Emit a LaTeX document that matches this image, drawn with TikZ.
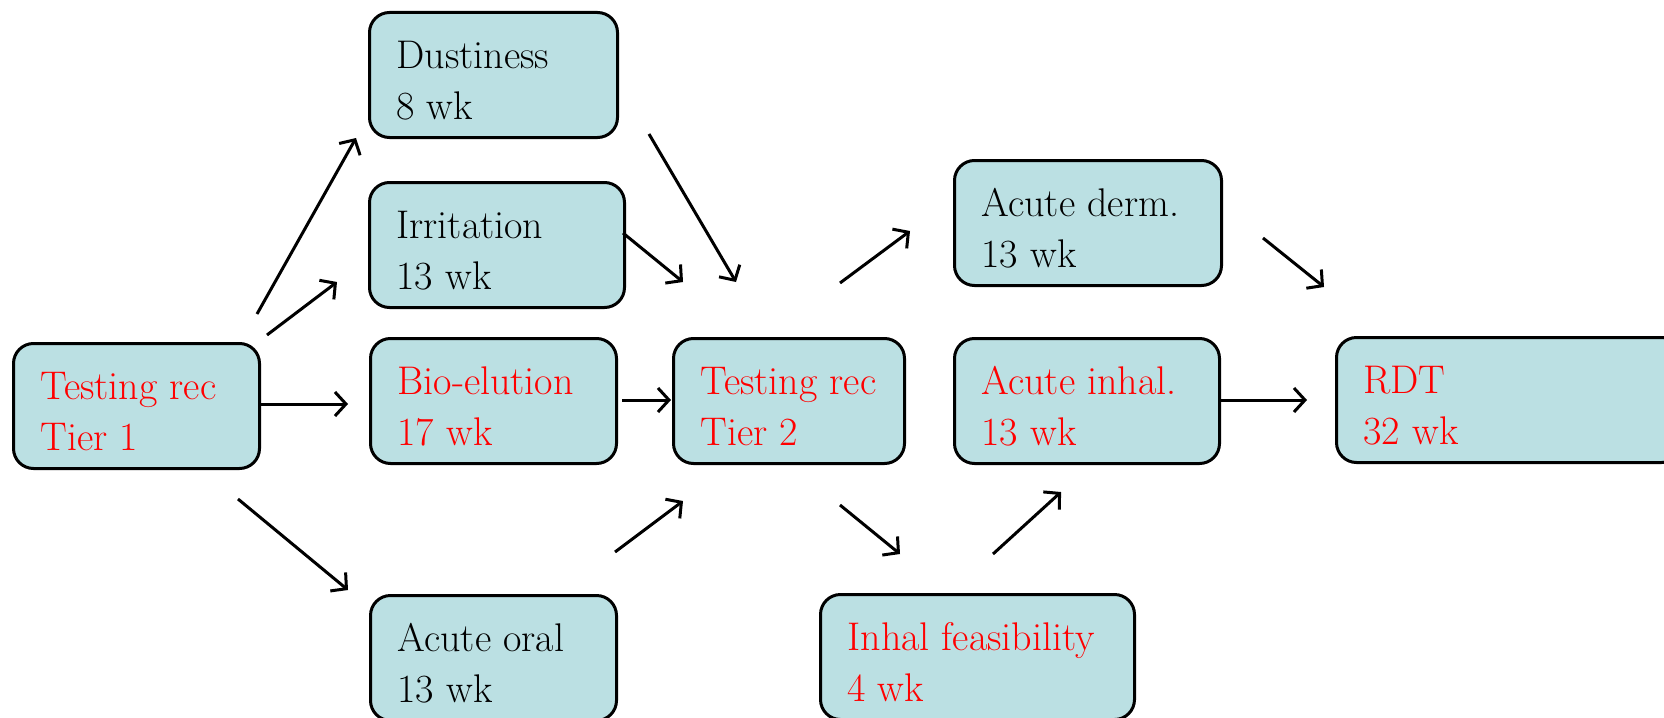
\documentclass[tikz,border=0pt]{standalone}
\usepackage{fontspec}
\usetikzlibrary{arrows.meta}
\definecolor{boxfill}{HTML}{BBE0E3}
\definecolor{txtred}{HTML}{FF0000}
\newcommand{\boxtext}[4]{\parbox[c][125pt][t]{#1pt}{\rmfamily\fontsize{40}{51}\selectfont\color{#2}\hspace*{27pt}\rule{0pt}{56pt}#3\par\hspace*{27pt}#4}}
\tikzset{
  stepbox/.style={draw=black, line width=3pt, fill=boxfill, rounded corners=20pt, inner sep=0pt, anchor=north west},
  arr/.style={line width=3pt, -{Straight Barb[length=11pt,width=24pt,line width=3pt]}}
}
\begin{document}
\begin{tikzpicture}[x=1pt,y=-1pt]
\useasboundingbox (0,0) rectangle (1664,717);
\clip (0,0) rectangle (1664,717);
\node[stepbox] (tier1) at (12,342) {\boxtext{246}{txtred}{Testing rec}{Tier 1}};
\node[stepbox] (dust) at (368,11) {\boxtext{248}{black}{Dustiness}{8 wk}};
\node[stepbox] (irr) at (368,181) {\boxtext{255}{black}{Irritation}{13 wk}};
\node[stepbox] (bio) at (369,337) {\boxtext{246}{txtred}{Bio-elution}{17 wk}};
\node[stepbox] (oral) at (369,594) {\boxtext{246}{black}{Acute oral}{13 wk}};
\node[stepbox] (tier2) at (672,337) {\boxtext{231}{txtred}{Testing rec}{Tier 2}};
\node[stepbox] (derm) at (953,159) {\boxtext{267}{black}{Acute derm.}{13 wk}};
\node[stepbox] (inhal) at (953,337) {\boxtext{265}{txtred}{Acute inhal.}{13 wk}};
\node[stepbox] (feas) at (819,593) {\boxtext{314}{txtred}{Inhal feasibility}{4 wk}};
\node[stepbox] (rdt) at (1335,336) {\boxtext{345}{txtred}{RDT}{32 wk}};

\coordinate (a1s) at (257,314); \coordinate (a1e) at (356,138);
\coordinate (a2s) at (267,335); \coordinate (a2e) at (337,282);
\coordinate (a3s) at (258,404); \coordinate (a3e) at (348,404);
\coordinate (a4s) at (238,499); \coordinate (a4e) at (348,590);
\coordinate (a5s) at (649,134); \coordinate (a5e) at (736,282);
\coordinate (a6s) at (623,233); \coordinate (a6e) at (683,282);
\coordinate (a7s) at (622,400); \coordinate (a7e) at (671,400);
\coordinate (a8s) at (615,552); \coordinate (a8e) at (683,501);
\coordinate (a9s) at (840,283); \coordinate (a9e) at (910,231);
\coordinate (a10s) at (840,505); \coordinate (a10e) at (900,554);
\coordinate (a11s) at (993,554); \coordinate (a11e) at (1061,492);
\coordinate (a12s) at (1263,238); \coordinate (a12e) at (1324,287);
\coordinate (a13s) at (1218,400); \coordinate (a13e) at (1307,400);

\foreach \i in {1,...,13} {\draw[arr] (a\i s) -- (a\i e);}
\end{tikzpicture}
\end{document}
